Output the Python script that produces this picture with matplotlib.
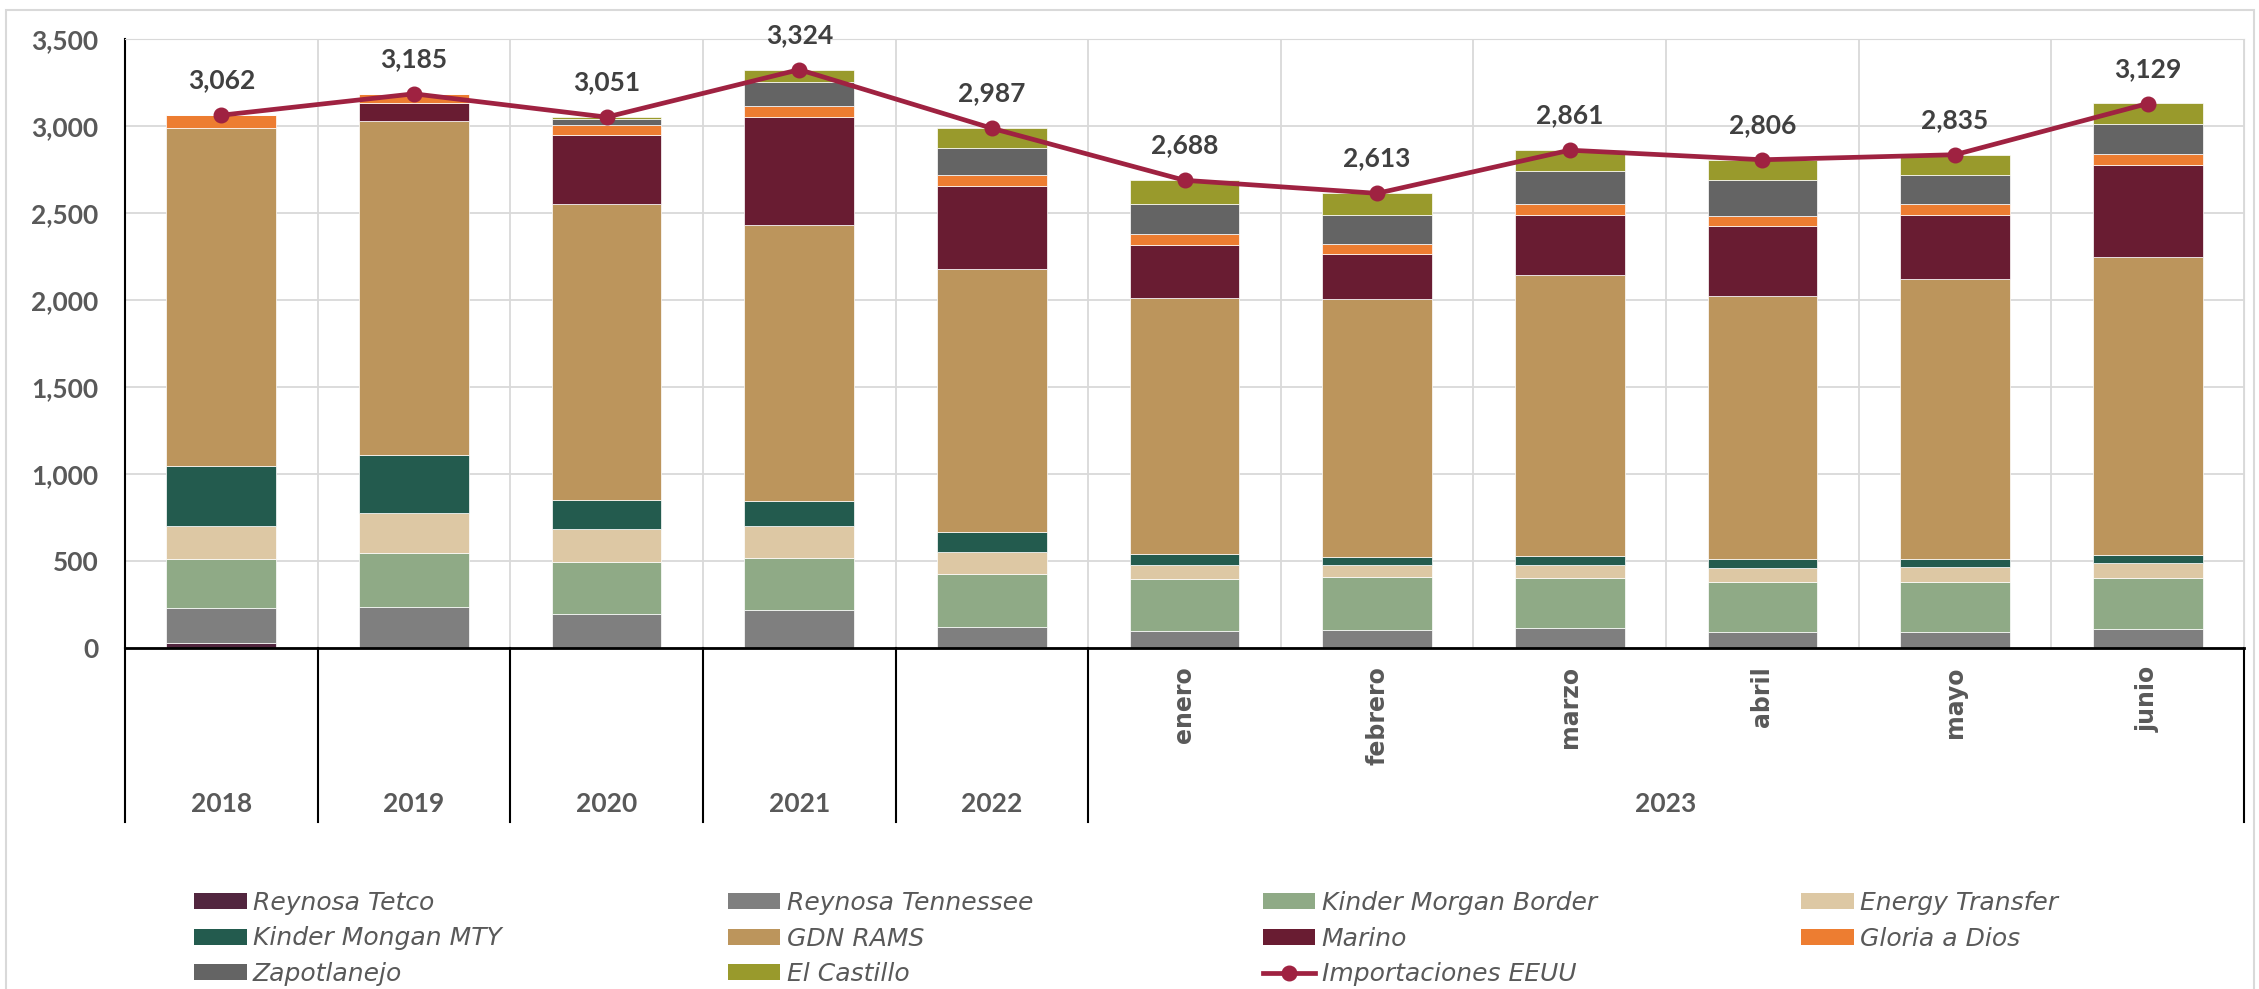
import numpy as np
import matplotlib.pyplot as plt
from matplotlib.patches import Patch, Rectangle
from matplotlib.lines import Line2D

# ---------------------------------------------------------------------------
# Datos (MMpcd) por punto de importación
# ---------------------------------------------------------------------------
categories = ["2018", "2019", "2020", "2021", "2022",
              "enero", "febrero", "marzo", "abril", "mayo", "junio"]
year_labels = ["2018", "2019", "2020", "2021", "2022"]
group_2023 = "2023"

reynosa_tetco = [28, 0, 0, 0, 0, 0, 0, 0, 0, 0, 0]
reynosa_tennessee = [201, 234, 198, 216, 118, 95, 105, 116, 90, 92, 110]
kinder_morgan_border = [280, 311, 298, 300, 308, 300, 301, 285, 288, 286, 293]
energy_transfer = [190, 228, 190, 188, 123, 80, 72, 74, 82, 87, 88]
kinder_mongan_mty = [349, 334, 164, 138, 116, 67, 46, 51, 51, 46, 46]
gdn_rams = [1942, 1924, 1701, 1591, 1513, 1467, 1480, 1619, 1513, 1610, 1713]
marino = [0, 100, 398, 621, 478, 308, 262, 344, 403, 368, 527]
gloria_a_dios = [74, 54, 54, 59, 62, 62, 56, 62, 57, 62, 64]
zapotlanejo = [0, 0, 38, 139, 156, 174, 167, 192, 203, 169, 170]
el_castillo = [0, 0, 10, 72, 114, 136, 126, 121, 118, 116, 123]
importaciones = [3062, 3185, 3051, 3324, 2987, 2688, 2613, 2861, 2806, 2835, 3129]

series = [
    ("Reynosa Tetco", reynosa_tetco, "#52263F"),
    ("Reynosa Tennessee", reynosa_tennessee, "#7F7F7F"),
    ("Kinder Morgan Border", kinder_morgan_border, "#8FAA86"),
    ("Energy Transfer", energy_transfer, "#DDC8A4"),
    ("Kinder Mongan MTY", kinder_mongan_mty, "#235B4E"),
    ("GDN RAMS", gdn_rams, "#BC955C"),
    ("Marino", marino, "#691C32"),
    ("Gloria a Dios", gloria_a_dios, "#ED7D31"),
    ("Zapotlanejo", zapotlanejo, "#646464"),
    ("El Castillo", el_castillo, "#999A2C"),
]
LINE_COLOR = "#9F2241"
TXT = "#595959"

plt.rcParams["font.family"] = ["Lato", "DejaVu Sans"]

# ---------------------------------------------------------------------------
# Figura
# ---------------------------------------------------------------------------
W, H = 2259, 989
fig = plt.figure(figsize=(W / 100, H / 100), dpi=100)
fig.patches.append(Rectangle((6 / W, -0.1), 2248 / W, 1.1 - 10 / H,
                             transform=fig.transFigure, fill=False,
                             edgecolor="#D9D9D9", lw=1.5))

ax_left, ax_right, ax_top, ax_bot = 125, 2244, 39, 648
ax = fig.add_axes([ax_left / W, 1 - ax_bot / H,
                   (ax_right - ax_left) / W, (ax_bot - ax_top) / H])
ax.patch.set_alpha(0)

x = np.arange(len(categories))
bottom = np.zeros(len(categories))
handles = {}
for name, vals, color in series:
    vals = np.array(vals, dtype=float)
    ax.bar(x, vals, 0.57, bottom=bottom, color=color,
           edgecolor="white", linewidth=0.5, zorder=2)
    bottom += vals
    handles[name] = Patch(facecolor=color, edgecolor="none")

ax.plot(x, importaciones, color=LINE_COLOR, lw=3.4, marker="o",
        markersize=10.5, zorder=4)
handles["Importaciones EEUU"] = Line2D([], [], color=LINE_COLOR, lw=3.4,
                                       marker="o", markersize=10.5)

for xi, v in zip(x, importaciones):
    ax.annotate(f"{v:,}", (xi, v), xytext=(0, 25), textcoords="offset points",
                ha="center", va="center", fontsize=19, fontweight="bold",
                color="#404040", zorder=5)

ax.set_xlim(-0.5, len(categories) - 0.5)
ax.set_ylim(0, 3500)
ax.set_yticks(np.arange(0, 3501, 500))
ax.set_yticklabels([f"{t:,}" for t in range(0, 3501, 500)],
                   fontsize=19, fontweight="bold", color=TXT)
ax.tick_params(axis="y", length=0, pad=19)
ax.set_xticks([])
ax.set_xticks(np.arange(-0.5, len(categories), 1), minor=True)
ax.tick_params(axis="x", which="both", length=0, labelbottom=False)
ax.yaxis.grid(True, color="#D9D9D9", lw=1.3, zorder=0)
ax.xaxis.grid(True, which="minor", color="#D9D9D9", lw=1.3, zorder=0)
ax.set_axisbelow(True)
ax.spines["top"].set_color("#D9D9D9")
ax.spines["right"].set_color("#D9D9D9")
ax.spines["left"].set_color("black")
ax.spines["left"].set_linewidth(1.5)
ax.spines["bottom"].set_color("black")
ax.spines["bottom"].set_linewidth(2)

# Eje de categorías en dos niveles
trans = ax.get_xaxis_transform()
low = -(822 - ax_bot) / (ax_bot - ax_top)
for xs in [-0.5, 0.5, 1.5, 2.5, 3.5, 4.5, 10.5]:
    ax.plot([xs, xs], [0, low], transform=trans, color="black", lw=1.5,
            clip_on=False)

month_top = -(666 - ax_bot) / (ax_bot - ax_top)
year_y = -(804 - ax_bot) / (ax_bot - ax_top)
for xi, lab in zip(x, categories):
    if lab in year_labels:
        ax.text(xi, year_y, lab, transform=trans, ha="center", va="center",
                fontsize=19, fontweight="bold", color=TXT)
    else:
        ax.text(xi, month_top, lab, transform=trans, ha="center", va="top",
                rotation=90, fontsize=17, fontweight="bold", color=TXT,
                family="DejaVu Sans")
ax.text(7.5, year_y, group_2023, transform=trans, ha="center", va="center",
        fontsize=19, fontweight="bold", color=TXT)

# Leyenda: 4 columnas, llenado por filas
columns = [
    (194, ["Reynosa Tetco", "Kinder Mongan MTY", "Zapotlanejo"]),
    (728, ["Reynosa Tennessee", "GDN RAMS", "El Castillo"]),
    (1263, ["Kinder Morgan Border", "Marino", "Importaciones EEUU"]),
    (1801, ["Energy Transfer", "Gloria a Dios"]),
]
for cx, names in columns:
    fig.legend([handles[n] for n in names], names,
               loc="upper left", bbox_to_anchor=(cx / W, 1 - 891 / H),
               frameon=False, borderpad=0, borderaxespad=0,
               handlelength=2.1, handleheight=0.6, handletextpad=0.25,
               labelspacing=0.46,
               prop={"family": "DejaVu Sans", "style": "oblique",
                     "size": 18},
               labelcolor=TXT)

fig.savefig("out.png", dpi=100)
